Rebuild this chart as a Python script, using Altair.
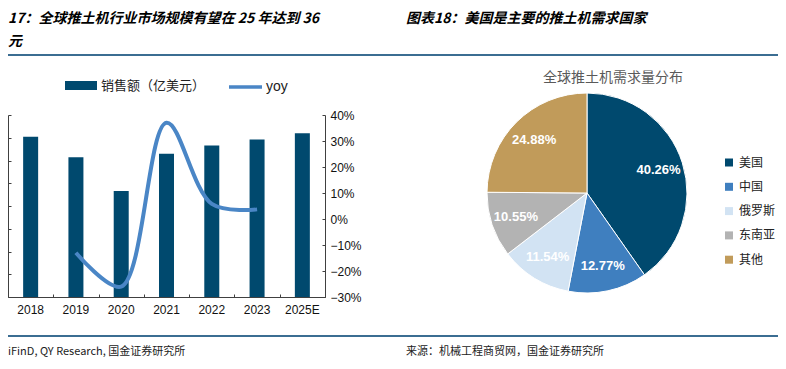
import altair as alt
import pandas as pd

# ---------------- data ----------------
years = ["2018", "2019", "2020", "2021", "2022", "2023", "2025E"]
sales = [35.2, 30.7, 23.3, 31.5, 33.3, 34.6, 36.0]
yoy_years = ["2019", "2020", "2021", "2022", "2023"]
yoy = [-0.13, -0.26, 0.37, 0.058, 0.037]
bar_series = "销售额（亿美元）"
line_series = "yoy"

regions = ["美国", "中国", "俄罗斯", "东南亚", "其他"]
shares = [40.26, 12.77, 11.54, 10.55, 24.88]
region_colors = ["#00496e", "#3f7fbf", "#d2e3f3", "#b3b3b3", "#c19b5a"]

left_title = "17：全球推土机行业市场规模有望在 25 年达到 36"
left_title2 = "元"
right_title = "图表18：美国是主要的推土机需求国家"
pie_title = "全球推土机需求量分布"
left_source = "iFinD, QY Research, 国金证券研究所"
right_source = "来源：机械工程商贸网，国金证券研究所"

# ---------------- layout ----------------
W, H = 770, 353
X0, X1 = 0, 317          # plot area (left chart) horizontal range
YB, YT = 289, 107        # plot area bottom / top
PIE_X, PIE_Y, PIE_R = 579, 185, 100
CJK = "Noto Sans CJK SC"
LAT = "Liberation Sans"
AXC = "#404040"

bar_df = pd.DataFrame({"year": years, "sales": sales, "s": bar_series})
line_df = pd.DataFrame({"year": yoy_years, "yoy": yoy, "s": line_series})
pie_df = pd.DataFrame({"region": regions, "share": shares, "idx": list(range(len(regions)))})

xs = alt.Scale(domain=years, range=[X0, X1], paddingInner=0, paddingOuter=0)
ys_sales = alt.Scale(domain=[0, 40], range=[YB, YT], nice=False, zero=True)
ys_yoy = alt.Scale(domain=[-0.3, 0.4], range=[YB, YT], nice=False, zero=False)

bars = alt.Chart(bar_df).mark_bar(size=15).encode(
    x=alt.X("year:N", scale=xs, sort=years,
            axis=alt.Axis(orient="bottom", offset=-(H - YB), title=None, ticks=False,
                          domainColor=AXC, labelAngle=0, labelPadding=7,
                          labelFont=LAT, labelFontSize=12, labelColor="#111111")),
    y=alt.Y("sales:Q", scale=ys_sales,
            axis=alt.Axis(orient="right", offset=-W, labels=False, title=None,
                          values=list(range(0, 45, 5)), tickSize=3, grid=False,
                          domainColor=AXC, tickColor=AXC)),
    color=alt.Color("s:N", scale=alt.Scale(domain=[bar_series], range=[region_colors[0]]),
                    legend=alt.Legend(orient="none", legendX=57, legendY=61.5, title=None,
                                      symbolType="M-1,-0.28L1,-0.28L1,0.28L-1,0.28Z",
                                      symbolSize=1024, symbolStrokeWidth=0, padding=0,
                                      labelFont=CJK, labelFontSize=13, labelColor="#222222",
                                      labelOffset=4)),
)

xticks = alt.Chart(bar_df).mark_point(opacity=0).encode(
    x=alt.X("year:N", scale=xs, sort=years,
            axis=alt.Axis(orient="top", offset=-YB, title=None, labels=False, domain=False,
                          tickBand="extent", tickSize=3, tickColor=AXC)),
)

line = alt.Chart(line_df).mark_line(strokeWidth=4, interpolate="catmull-rom").encode(
    x=alt.X("year:N", scale=xs, sort=years, axis=None),
    y=alt.Y("yoy:Q", scale=ys_yoy,
            axis=alt.Axis(orient="right", offset=-(W - X1), title=None, format=".0%",
                          values=[-0.3, -0.2, -0.1, 0, 0.1, 0.2, 0.3, 0.4], tickSize=0,
                          labelPadding=5, domainColor=AXC, grid=False,
                          labelFont=LAT, labelFontSize=12, labelColor="#111111")),
    stroke=alt.Stroke("s:N", scale=alt.Scale(domain=[line_series], range=["#4a86c6"]),
                      legend=alt.Legend(orient="none", legendX=219, legendY=60.5, title=None,
                                        symbolType="stroke", symbolSize=1089,
                                        symbolStrokeWidth=3.5, padding=0,
                                        labelFont=LAT, labelFontSize=14, labelColor="#222222",
                                        labelOffset=2)),
)

yticks = alt.Chart(line_df).mark_point(opacity=0).encode(
    y=alt.Y("yoy:Q", scale=ys_yoy,
            axis=alt.Axis(orient="left", offset=-X1, title=None, labels=False, domain=False,
                          values=[-0.3, -0.2, -0.1, 0, 0.1, 0.2, 0.3, 0.4], tickSize=3,
                          tickColor=AXC, grid=False)),
    x=alt.value(X1),
)

arcs = alt.Chart(pie_df).mark_arc(outerRadius=PIE_R, stroke="white", strokeWidth=1).encode(
    theta=alt.Theta("share:Q", stack=True),
    order=alt.Order("idx:Q"),
    color=alt.Color("region:N", sort=regions,
                    scale=alt.Scale(domain=regions, range=region_colors),
                    legend=alt.Legend(orient="none", legendX=715, legendY=148.5, title=None,
                                      symbolType="square", symbolSize=64, symbolStrokeWidth=0,
                                      padding=0, rowPadding=12.3, labelLimit=200,
                                      labelFont=CJK, labelFontSize=12, labelColor="#222222",
                                      labelOffset=4)),
    x=alt.value(PIE_X), y=alt.value(PIE_Y),
)

pie_text = alt.Chart(pie_df).transform_calculate(
    lab="format(datum.share, '.2f') + '%'"
).mark_text(radius=75, font=LAT, fontSize=13, fontWeight="bold", color="white").encode(
    theta=alt.Theta("share:Q", stack=True),
    order=alt.Order("idx:Q"),
    text="lab:N",
    x=alt.value(PIE_X), y=alt.value(PIE_Y),
)


def label(txt, x, y, size, color="#000000", weight="normal", style="normal",
          align="left", font=CJK):
    return alt.Chart(pd.DataFrame({"t": [txt]})).mark_text(
        align=align, baseline="middle", fontSize=size, font=font, color=color,
        fontWeight=weight, fontStyle=style,
    ).encode(text="t:N", x=alt.value(x), y=alt.value(y))


texts = [
    label(left_title, 0, 11, 14, weight="bold", style="italic"),
    label(left_title2, 0, 34, 14, weight="bold", style="italic"),
    label(right_title, 398, 11, 14, weight="bold", style="italic"),
    label(pie_title, 605, 70, 14, color="#5a5a5a", align="center"),
    label(left_source, 0, 344, 11, color="#222222"),
    label(right_source, 398, 344, 11, color="#222222"),
]

rule_df = pd.DataFrame({"k": [0]})
rules = [
    alt.Chart(rule_df).mark_rule(color="#3b6d92", strokeWidth=2).encode(
        x=alt.value(0), x2=alt.value(W), y=alt.value(yy))
    for yy in (47, 328)
]

chart = alt.layer(bars, xticks, line, yticks, arcs, pie_text, *texts, *rules).resolve_scale(
    x="independent", y="independent", color="independent"
).properties(
    width=W, height=H, autosize="none", padding=0
).configure_view(stroke=None).configure_axis(grid=False)

chart.save("out.html", embed_options={"renderer": "svg", "actions": False})
